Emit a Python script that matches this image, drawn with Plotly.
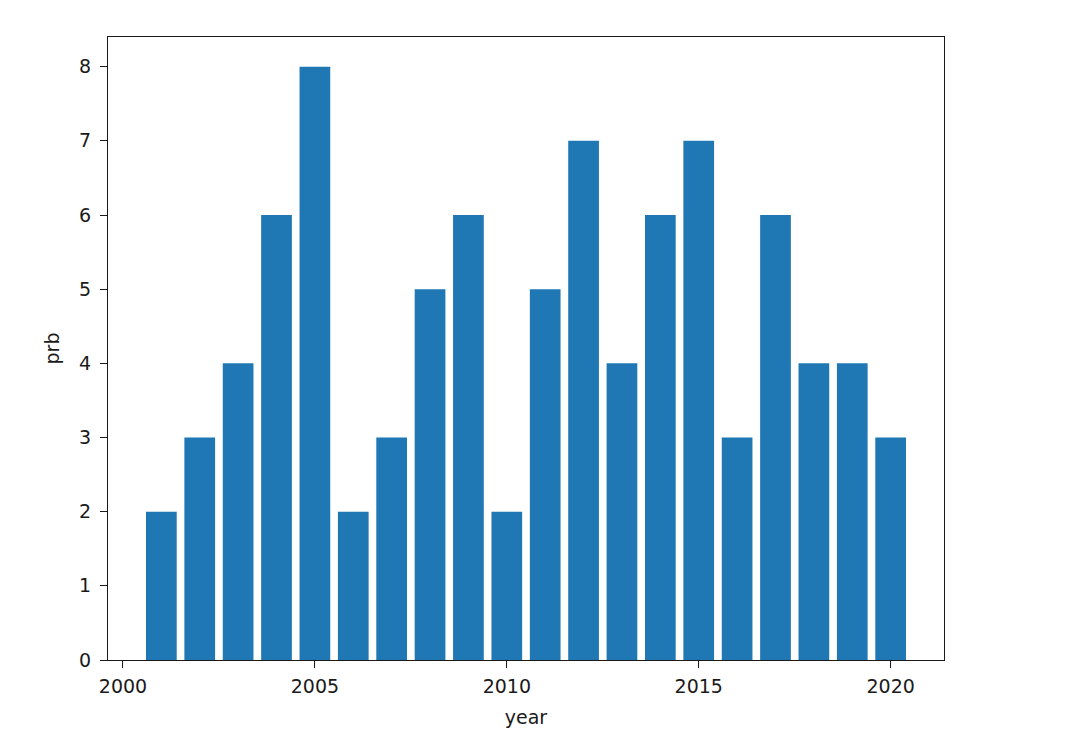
import plotly.graph_objects as go

years = list(range(2001, 2021))
prb = [2, 3, 4, 6, 8, 2, 3, 5, 6, 2, 5, 7, 4, 6, 7, 3, 6, 4, 4, 3]
x_ticks = [2000, 2005, 2010, 2015, 2020]
y_ticks = [0, 1, 2, 3, 4, 5, 6, 7, 8]

fig = go.Figure(go.Bar(x=years, y=prb, width=0.8, marker=dict(color="#1f77b4", line=dict(width=0))))

fnt = dict(family="DejaVu Sans", size=19, color="#1a1a1a")
fig.update_layout(
    width=1085, height=743,
    margin=dict(l=108, r=141, t=37, b=83),
    plot_bgcolor="white", paper_bgcolor="white",
    font=fnt, showlegend=False,
    xaxis=dict(range=[1999.61, 2021.39], tickvals=x_ticks, ticks="outside", ticklen=7, tickwidth=1.4,
               tickcolor="#1a1a1a", showline=True, linecolor="#1a1a1a", linewidth=1.4, mirror=True,
               showgrid=False, zeroline=False, ticklabelstandoff=2,
               title=dict(text="year", font=fnt, standoff=14)),
    yaxis=dict(range=[0, 8.4], tickvals=y_ticks, ticks="outside", ticklen=7, tickwidth=1.4,
               tickcolor="#1a1a1a", showline=True, linecolor="#1a1a1a", linewidth=1.4, mirror=True,
               showgrid=False, zeroline=False, ticklabelstandoff=5,
               title=dict(text="prb", font=fnt, standoff=14)),
)
fig.write_html("out.html")
